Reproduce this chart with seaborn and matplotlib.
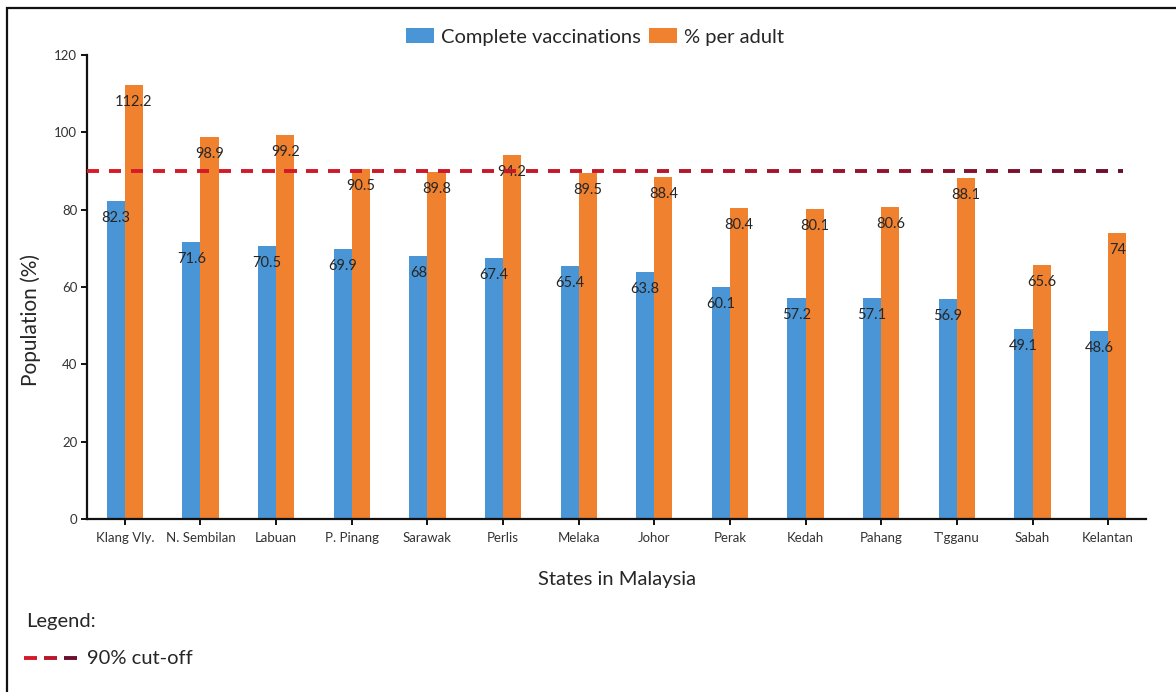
import numpy as np
import pandas as pd
import matplotlib
matplotlib.use("Agg")
import matplotlib.pyplot as plt
import seaborn as sns
from matplotlib.collections import LineCollection
from matplotlib.colors import LinearSegmentedColormap
from matplotlib.patches import Rectangle

# Vaccination coverage by state
states = ["Klang Vly.", "N. Sembilan", "Labuan", "P. Pinang", "Sarawak", "Perlis",
          "Melaka", "Johor", "Perak", "Kedah", "Pahang", "T'gganu", "Sabah", "Kelantan"]
complete_vacc = [82.3, 71.6, 70.5, 69.9, 68, 67.4, 65.4, 63.8, 60.1, 57.2, 57.1, 56.9, 49.1, 48.6]
per_adult = [112.2, 98.9, 99.2, 90.5, 89.8, 94.2, 89.5, 88.4, 80.4, 80.1, 80.6, 88.1, 65.6, 74]
series_names = ["Complete vaccinations", "% per adult"]
cutoff = 90
y_ticks = [0, 20, 40, 60, 80, 100, 120]

BLUE = "#4a95d5"
ORANGE = "#f0812f"
TEXT = "#262626"

sns.set_theme(style="white")
plt.rcParams["font.family"] = ["Lato", "DejaVu Sans"]

df = pd.DataFrame({
    "State": states * 2,
    "Series": [series_names[0]] * len(states) + [series_names[1]] * len(states),
    "Value": complete_vacc + per_adult,
})

fig = plt.figure(figsize=(11.76, 6.92), dpi=100)
W, H = 1176, 692
ax = fig.add_axes([87 / W, 1 - 519 / H, (1146 - 87) / W, (519 - 55) / H])

sns.barplot(data=df, x="State", y="Value", hue="Series", hue_order=series_names,
            order=states, palette=[BLUE, ORANGE], width=0.48, saturation=1,
            errorbar=None, ax=ax, legend=True, linewidth=0, edgecolor="none")

ax.set_xlim(-0.5, len(states) - 0.5)
ax.set_ylim(0, 120)
ax.set_yticks(y_ticks)
ax.set_yticklabels([str(t) for t in y_ticks])

# value labels sit just inside the top of each bar
for cont, vals in zip(ax.containers, [complete_vacc, per_adult]):
    for patch, v in zip(cont.patches, vals):
        ax.annotate(f"{v:g}", xy=(patch.get_x() + patch.get_width() / 2, patch.get_height()),
                    xytext=(0, -17), textcoords="offset pixels", ha="center", va="center",
                    fontsize=10.5, color=TEXT, zorder=4)

# 90% cut-off: dashed line shading from red to maroon
x0, x1 = -0.5, 13.19
period, dash = 0.29, 0.16
starts = np.arange(x0, x1, period)
segs = [[(s, cutoff), (min(s + dash, x1), cutoff)] for s in starts]
cmap = LinearSegmentedColormap.from_list("cut", ["#d81b27", "#c2172b", "#6b0f2d"])
lc = LineCollection(segs, colors=cmap(np.linspace(0, 1, len(segs))), linewidths=2.8,
                    capstyle="butt", zorder=5)
ax.add_collection(lc)

for side in ["top", "right"]:
    ax.spines[side].set_visible(False)
for side in ["left", "bottom"]:
    ax.spines[side].set_linewidth(1.6)
    ax.spines[side].set_color("#111111")

ax.tick_params(axis="both", which="major", direction="out", length=4, width=1.4,
               color="#111111", labelsize=9.5, labelcolor="#333333", pad=3)
ax.tick_params(axis="x", pad=5)
ax.tick_params(left=True, bottom=True)

ax.set_xlabel("States in Malaysia", fontsize=14.5, color=TEXT)
ax.xaxis.set_label_coords(0.5, (519 - 579) / 464)
ax.xaxis.label.set_verticalalignment("center")
ax.set_ylabel("Population (%)", fontsize=15, color=TEXT)
ax.yaxis.set_label_coords((31 - 87) / 1059, (519 - 320) / 464)
ax.yaxis.label.set_verticalalignment("center")

handles, labels = ax.get_legend_handles_labels()
ax.legend(handles, labels, loc="center", bbox_to_anchor=(595 / W, 1 - 37 / H),
          bbox_transform=fig.transFigure, ncol=2, frameon=False, fontsize=14.5,
          handlelength=1.4, handleheight=0.7, handletextpad=0.35, columnspacing=0.4,
          labelcolor=TEXT)

# outer frame
fig.add_artist(Rectangle((7 / W, -0.05), 1.2, 1 - 8 / H + 0.05, transform=fig.transFigure,
                         fill=False, lw=1.6, edgecolor="#111111", clip_on=False))

# key for the cut-off line
fig.text(26 / W, 1 - 622 / H, "Legend:", fontsize=14.5, color=TEXT, ha="left", va="center")
ky = 1 - 658 / H
key_cols = cmap(np.linspace(0.1, 1, 3))
for i in range(3):
    xa = (24 + i * 20) / W
    fig.add_artist(plt.Line2D([xa, xa + 13 / W], [ky, ky], transform=fig.transFigure,
                              color=key_cols[i], lw=2.8, solid_capstyle="butt"))
fig.text(87 / W, ky, "90% cut-off", fontsize=14.5, color=TEXT, ha="left", va="center")

fig.savefig("out.png", dpi=100, facecolor="white")
